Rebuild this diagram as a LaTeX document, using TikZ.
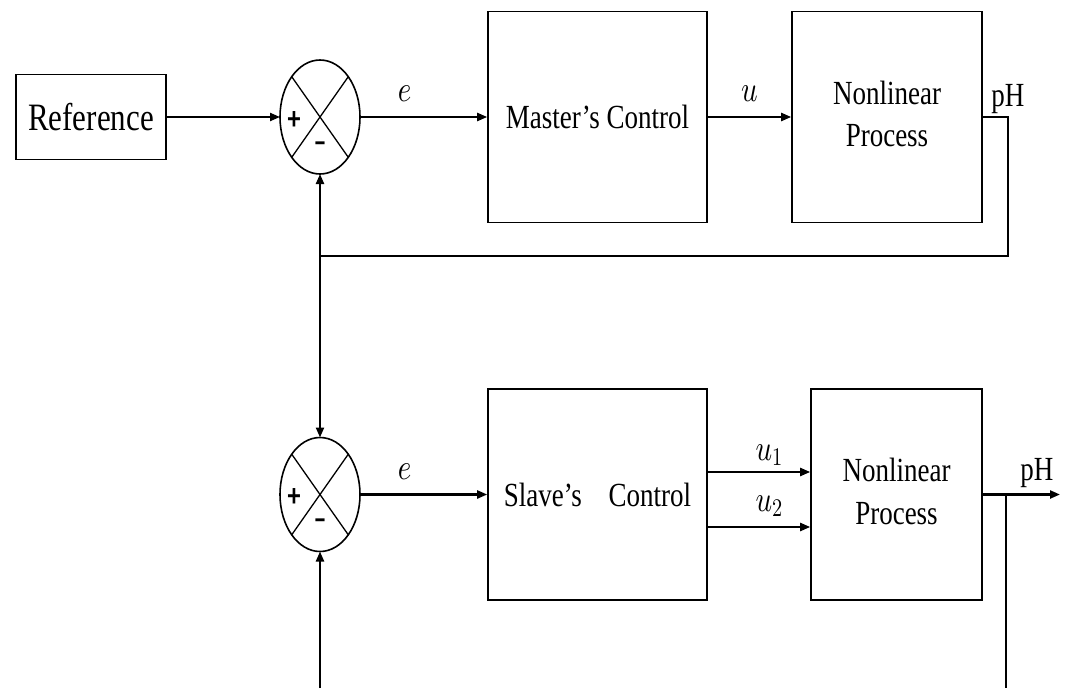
\documentclass[tikz,border=0pt]{standalone}
\usepackage{fontspec}
\setmainfont{Liberation Serif}
\newfontfamily\signfont{Carlito}
\DeclareFontShape{OML}{cmm}{m}{it}{<->cmmi10}{}
\DeclareFontShape{OT1}{cmr}{m}{n}{<->cmr10}{}
\usepackage{graphicx}
\usetikzlibrary{shapes.geometric, arrows.meta, positioning, calc}
\newcommand{\tallt}[1]{\scalebox{1}[1.25]{#1}}

\begin{document}
\begin{tikzpicture}[
    x=1pt, y=-1pt,
    every node/.style={font=\fontsize{27}{34}\selectfont, inner sep=2pt},
    block/.style={rectangle, draw, line width=1.6pt, minimum width=219pt, minimum height=211pt, inner sep=0pt, align=center},
    sumjunc/.style={ellipse, draw, line width=1.6pt, minimum width=80pt, minimum height=114pt, inner sep=0pt, outer sep=0pt},
    sign/.style={font=\signfont\bfseries\fontsize{26}{26}\selectfont, inner sep=0pt},
    wire/.style={line width=2.2pt},
    arrow/.style={wire, -{Triangle[length=10pt, width=8pt]}},
    sig/.style={above=12pt, font=\fontsize{29}{34}\selectfont}
]
\useasboundingbox (0,0) rectangle (1065,688);

% master loop
\node[block, minimum width=150pt, minimum height=85pt, font=\fontsize{31}{36}\selectfont] (ref) at (91,117) {\tallt{Reference}};
\node[sumjunc] (sum1) at (320,117) {};
\node[block] (master) at (597.5,117) {\tallt{Master's Control}};
\node[block, minimum width=190pt] (plant1) at (887,117) {\tallt{\begin{tabular}{@{}c@{}}Nonlinear\\Process\end{tabular}}};

% slave loop
\node[sumjunc] (sum2) at (320,494.5) {};
\node[block] (slave) at (597.5,494.5) {\tallt{Slave's\quad Control}};
\node[block, minimum width=171pt] (plant2) at (896.5,494.5) {\tallt{\begin{tabular}{@{}c@{}}Nonlinear\\Process\end{tabular}}};

% signs in the junctions
\foreach \s in {sum1, sum2} {
    \draw[line width=1.3pt] (\s.north west) -- (\s.south east) (\s.north east) -- (\s.south west);
    \node[sign] at ($(\s)+(-26,3)$) {\tallt{+}};
    \node[sign] at ($(\s)+(0,30)$) {\tallt{–}};
}

\coordinate (fb1) at ($(plant1.east)+(25,0)$);
\coordinate (fb2) at ($(fb1)+(0,139)$);
\coordinate (split) at (fb2 -| sum1);
\coordinate (u1s) at ($(slave.east)+(0,-22.5)$);
\coordinate (u2s) at ($(slave.east)+(0,32.5)$);
\coordinate (out2) at (1060,494.5);
\coordinate (tap) at (1006,494.5);
\coordinate (tapend) at (1006,688);
\coordinate (fb3) at (320,688);

\draw[arrow] (ref) -- (sum1);
\draw[arrow] (sum1) -- node[sig, pos=0.35] {\tallt{$e$}} (master);
\draw[arrow] (master) -- node[sig] {\tallt{$u$}} (plant1);
\draw[wire] (plant1.east) -- (fb1) node[above=0pt] {\tallt{pH}} -- (fb2) -- (split);
\draw[arrow] (split) -- (sum1.south);
\draw[arrow] (split) -- (sum2.north);

\draw[arrow] (sum2) -- node[sig, pos=0.35] {\tallt{$e$}} (slave);
\draw[arrow] (u1s) -- node[sig, above=3pt, pos=0.6] {\tallt{$u_1$}} (u1s -| plant2.west);
\draw[arrow] (u2s) -- node[sig, above=7pt, pos=0.6] {\tallt{$u_2$}} (u2s -| plant2.west);
\draw[arrow] (plant2) -- node[above=4pt, pos=0.7] {\tallt{pH}} (out2);
\draw[wire] (tap) -- (tapend);
\draw[arrow] (fb3) -- (sum2.south);

\end{tikzpicture}
\end{document}
